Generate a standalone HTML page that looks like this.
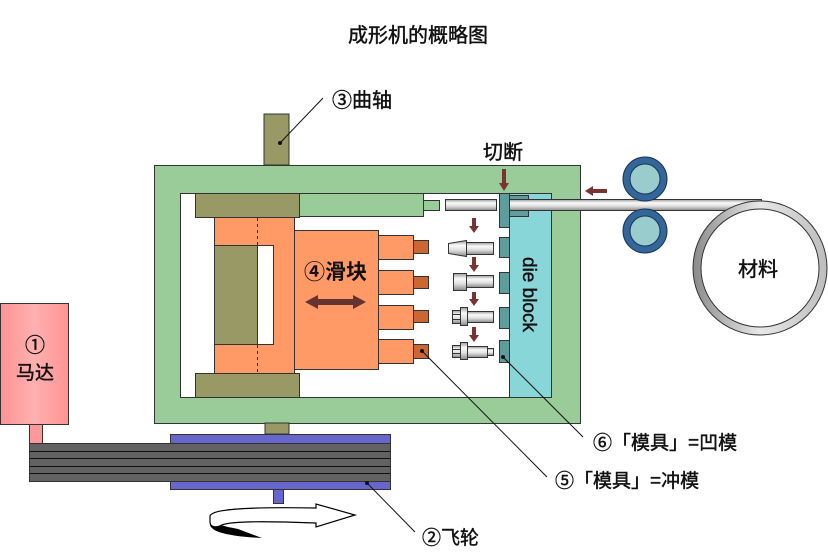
<!DOCTYPE html>
<html><head><meta charset="utf-8"><style>
html,body{margin:0;padding:0;background:#fff;}
svg{display:block;}
text{font-family:"Liberation Sans","Noto Sans CJK SC",sans-serif;fill:#111;}
.t{stroke:#111;stroke-width:0.45;}
</style></head><body>
<svg width="828" height="552" viewBox="0 0 828 552" xmlns="http://www.w3.org/2000/svg">
<defs>
<linearGradient id="rod" x1="0" y1="0" x2="0" y2="1">
<stop offset="0" stop-color="#9a9a9a"/><stop offset="0.3" stop-color="#fafafa"/><stop offset="0.6" stop-color="#e0e0e0"/><stop offset="1" stop-color="#8a8a8a"/>
</linearGradient>
<linearGradient id="motor" x1="0" y1="0" x2="1" y2="0">
<stop offset="0" stop-color="#ff9494"/><stop offset="0.5" stop-color="#ffb0b0"/><stop offset="1" stop-color="#ff9494"/>
</linearGradient>
<linearGradient id="coil" x1="0" y1="0" x2="1" y2="0">
<stop offset="0" stop-color="#8a8a8a"/><stop offset="0.5" stop-color="#e8e8e8"/><stop offset="1" stop-color="#bdbdbd"/>
</linearGradient>
</defs>

<!-- title -->
<text class="t" x="348" y="42" font-size="20">成形机的概略图</text>

<!-- crankshaft top -->
<rect x="264" y="114" width="25" height="51" fill="#999966" stroke="#333" stroke-width="1"/>

<!-- frame -->
<rect x="154.5" y="165.5" width="426" height="258" fill="#99cc99" stroke="#333" stroke-width="1"/>
<rect x="180.5" y="193.5" width="371" height="204" fill="#fff" stroke="#333" stroke-width="1"/>
<!-- die block -->
<rect x="509.5" y="193.5" width="42" height="204" fill="#88d6d8" stroke="#333" stroke-width="1"/>

<!-- top green bar & olive -->
<rect x="299.5" y="193.5" width="124" height="23" fill="#99cc99" stroke="#333" stroke-width="1"/>
<rect x="423.5" y="200.5" width="16" height="10" fill="#99cc99" stroke="#333" stroke-width="1"/>
<rect x="195.5" y="193.5" width="104" height="24" fill="#999966" stroke="#333" stroke-width="1"/>

<!-- crank connector -->
<rect x="214.5" y="217.5" width="80" height="156" fill="#ff9966" stroke="#333" stroke-width="1"/>
<rect x="214.5" y="245.5" width="43" height="99" fill="#999966" stroke="#333" stroke-width="1"/>
<rect x="257.5" y="245.5" width="16" height="99" fill="#fff" stroke="#333" stroke-width="1"/>
<line x1="257.5" y1="218" x2="257.5" y2="245" stroke="#333" stroke-width="1" stroke-dasharray="3,3"/>
<line x1="257.5" y1="345" x2="257.5" y2="373" stroke="#333" stroke-width="1" stroke-dasharray="3,3"/>
<rect x="195.5" y="373.5" width="104" height="24" fill="#999966" stroke="#333" stroke-width="1"/>

<!-- slide -->
<rect x="294.5" y="230.5" width="84" height="139" fill="#ff9966" stroke="#333" stroke-width="1"/>
<text x="304" y="279" font-size="21" font-weight="bold">④滑块</text>
<path d="M305 302 L318 295 L318 299 L353 299 L353 295 L366 302 L353 309 L353 305 L318 305 L318 309 Z" fill="#663333"/>

<!-- punch holders -->
<g fill="#ff9966" stroke="#333" stroke-width="1">
<rect x="378.5" y="235.5" width="35" height="24"/>
<rect x="378.5" y="270.5" width="35" height="24"/>
<rect x="378.5" y="305.5" width="35" height="24"/>
<rect x="378.5" y="339.5" width="35" height="24"/>
</g>
<g fill="#cc6633" stroke="#333" stroke-width="1">
<rect x="413.5" y="240.5" width="15" height="13"/>
<rect x="413.5" y="276.5" width="15" height="12"/>
<rect x="413.5" y="310.5" width="15" height="12"/>
<rect x="413.5" y="344.5" width="15" height="14"/>
</g>

<!-- die inserts -->
<g fill="#5f9c9c" stroke="#333" stroke-width="1">
<rect x="499.5" y="193.5" width="10" height="34"/>
<rect x="499.5" y="237.5" width="10" height="20"/>
<rect x="499.5" y="272.5" width="10" height="21"/>
<rect x="499.5" y="307.5" width="10" height="21"/>
<rect x="499.5" y="340.5" width="10" height="22"/>
<rect x="509.5" y="195.5" width="19" height="21"/>
</g>

<!-- slug -->
<rect x="445.5" y="199.5" width="51" height="11" fill="url(#rod)" stroke="#333" stroke-width="1"/>

<!-- wire -->
<rect x="509.5" y="199.5" width="252" height="11" fill="url(#rod)" stroke="#333" stroke-width="1"/>

<!-- coil -->
<circle cx="760" cy="268" r="67" fill="url(#coil)" stroke="#333" stroke-width="1"/>
<circle cx="760" cy="268" r="59" fill="#fff" stroke="#333" stroke-width="1"/>
<text class="t" x="738" y="276" font-size="20">材料</text>

<!-- rollers -->
<circle cx="645" cy="179" r="22" fill="#336699" stroke="#1a3355" stroke-width="1"/>
<circle cx="645" cy="179" r="15" fill="#99cccc" stroke="#1a3355" stroke-width="1"/>
<circle cx="645" cy="231" r="22" fill="#336699" stroke="#1a3355" stroke-width="1"/>
<circle cx="645" cy="231" r="15" fill="#99cccc" stroke="#1a3355" stroke-width="1"/>

<!-- feed arrow -->
<path d="M585 191 L593 186 L593 189 L607 189 L607 193 L593 193 L593 196 Z" fill="#7a3333"/>

<!-- cut arrow -->
<path d="M502 169 L506 169 L506 183 L509 183 L504 191 L499 183 L502 183 Z" fill="#7a3333"/>
<!-- transfer arrows -->
<g fill="#7a3333">
<path d="M472 218 L476 218 L476 226 L479 226 L474 233 L469 226 L472 226 Z"/>
<path d="M472 257 L476 257 L476 265 L479 265 L474 272 L469 265 L472 265 Z"/>
<path d="M472 292 L476 292 L476 299 L479 299 L474 306 L469 299 L472 299 Z"/>
<path d="M472 327 L476 327 L476 335 L479 335 L474 342 L469 335 L472 335 Z"/>
</g>

<!-- workpieces -->
<g fill="url(#rod)" stroke="#333" stroke-width="1">
<rect x="466.5" y="242.5" width="27" height="12"/>
<path d="M448.5 243.5 L466.5 240.5 L466.5 256.5 L448.5 253.5 Z"/>
<rect x="466.5" y="275.5" width="27" height="12"/>
<rect x="453.5" y="273.5" width="13" height="17"/>
<rect x="467.5" y="311.5" width="26" height="11"/>
<rect x="452.5" y="310.5" width="8" height="13"/>
<rect x="460.5" y="307.5" width="7" height="18"/>
<rect x="467.5" y="346.5" width="20" height="11"/>
<rect x="487.5" y="348.5" width="6" height="7"/>
<rect x="452.5" y="345.5" width="8" height="12"/>
<rect x="460.5" y="342.5" width="7" height="17"/>
</g>
<g stroke="#333" stroke-width="1">
<line x1="452" y1="314.5" x2="460" y2="314.5"/><line x1="452" y1="319.5" x2="460" y2="319.5"/>
<line x1="452" y1="349.5" x2="460" y2="349.5"/><line x1="452" y1="353.5" x2="460" y2="353.5"/>
</g>

<!-- die block label -->
<text class="t" x="0" y="0" font-size="19" transform="translate(523 257) rotate(90)">die block</text>

<!-- crank bottom -->
<rect x="265" y="423" width="24" height="11" fill="#999966" stroke="#333" stroke-width="1"/>

<!-- flywheel -->
<rect x="170.5" y="434.5" width="220" height="55" fill="#6666cc" stroke="#333" stroke-width="1"/>
<rect x="273.5" y="489.5" width="10" height="14" fill="#6666cc" stroke="#333" stroke-width="1"/>

<!-- motor -->
<rect x="0.5" y="303.5" width="68" height="121" fill="url(#motor)" stroke="#333" stroke-width="1"/>
<rect x="29.5" y="424.5" width="13" height="19" fill="#ff9999" stroke="#333" stroke-width="1"/>
<text class="t" x="35" y="352" font-size="20" text-anchor="middle">①</text>
<text class="t" x="35" y="379" font-size="19" text-anchor="middle">马达</text>

<!-- belt -->
<rect x="29.5" y="443.5" width="361" height="38" fill="#626262" stroke="#333" stroke-width="1"/>
<g stroke="#111" stroke-width="1">
<line x1="30" y1="451.5" x2="390" y2="451.5"/>
<line x1="30" y1="458.5" x2="390" y2="458.5"/>
<line x1="30" y1="466.5" x2="390" y2="466.5"/>
<line x1="30" y1="473.5" x2="390" y2="473.5"/>
</g>

<!-- rotation arrow -->
<path d="M210 525 C212 534,240 537,262 538 L238 529 C228 527,222 526,220 524 Z" fill="#000"/>
<path d="M210 516 C212 508,260 507,316 508 L316 504 L355 515 L316 527 L316 523 C262 521,226 521,220 526 C214 528,210 526,210 522 Z" fill="#fff" stroke="#000" stroke-width="1.2"/>

<!-- leader lines -->
<g stroke="#111" stroke-width="1">
<line x1="280" y1="143" x2="323" y2="98"/>
<line x1="422" y1="351" x2="547" y2="477"/>
<line x1="503" y1="357" x2="583" y2="437"/>
<line x1="367" y1="483" x2="415" y2="532"/>
</g>
<g fill="#111">
<circle cx="280" cy="143" r="2"/>
<circle cx="422" cy="351" r="2"/>
<circle cx="503" cy="357" r="2"/>
<circle cx="367" cy="483" r="2"/>
</g>

<!-- labels -->
<text class="t" x="332" y="107" font-size="20">③曲轴</text>
<text class="t" x="483" y="159" font-size="20">切断</text>
<text class="t" x="593" y="449" font-size="19">⑥「模具」=凹模</text>
<text class="t" x="555" y="487" font-size="19">⑤「模具」=冲模</text>
<text class="t" x="422" y="544" font-size="19">②飞轮</text>
</svg>
</body></html>
